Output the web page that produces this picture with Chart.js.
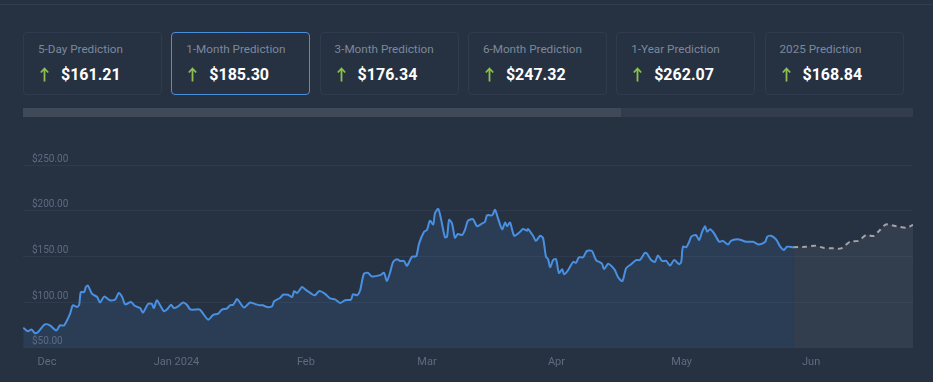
<!DOCTYPE html>
<html>
<head>
<meta charset="utf-8">
<script src="https://cdn.jsdelivr.net/npm/chart.js@4/dist/chart.umd.min.js"></script>
<style>
  html, body { margin: 0; padding: 0; }
  body { width: 933px; height: 382px; overflow: hidden; background: #263142; font-family: Roboto, "Noto Sans", sans-serif; position: relative; }
  .topline { position: absolute; left: 0; top: 4px; width: 933px; height: 1px; background: #323e50; }
  .card { position: absolute; top: 32px; width: 137px; height: 61px; border: 1px solid #303c4e; border-radius: 4px; box-sizing: content-box; }
  .card.sel { border-color: #4a8fdc; }
  .card .t { position: absolute; left: 14px; top: 9px; font-size: 11.7px; color: #7c899b; white-space: nowrap; }
  .card .v { position: absolute; left: 37px; top: 32px; font-size: 16px; font-weight: 700; color: #ffffff; white-space: nowrap; }
  .card svg { position: absolute; left: 16px; top: 34px; }
  .track { position: absolute; left: 23px; top: 108px; width: 890px; height: 9px; background: #323c4c; }
  .thumb { position: absolute; left: 23px; top: 108px; width: 598px; height: 9px; background: #404958; }
  #c { position: absolute; left: 0; top: 130px; }
</style>
</head>
<body>
<div class="topline"></div>
<div id="cards"></div>
<div class="track"></div>
<div class="thumb"></div>
<canvas id="c" width="933" height="252"></canvas>
<script>
// ---- data ----
const predictionLabels = ["5-Day Prediction", "1-Month Prediction", "3-Month Prediction", "6-Month Prediction", "1-Year Prediction", "2025 Prediction"];
const predictionValues = ["161.21", "185.30", "176.34", "247.32", "262.07", "168.84"];
const selectedPrediction = 1;

// days since 2023-12-01
const monthTicks = [0, 31, 62, 91, 122, 152, 183];
const monthLabels = ["Dec", "Jan 2024", "Feb", "Mar", "Apr", "May", "Jun"];
const yTicks = [50, 100, 150, 200, 250];

const histDays = [-5.7,-4.6,-3.7,-2.9,-2.2,-0.5,0.7,2.2,3.1,4.1,5.5,6.2,7.2,7.7,8.1,8.9,9.3,9.8,10.8,12.0,12.7,13.7,15.1,16.3,17.2,18.0,18.7,20.1,21.1,22.3,23.0,24.2,25.1,25.6,26.3,27.1,28.0,28.7,29.7,30.4,31.4,32.6,33.5,34.3,35.4,36.6,38.6,39.8,41.0,41.9,43.1,43.8,44.6,45.5,46.2,47.2,48.6,49.8,51.0,51.7,52.7,53.9,54.4,55.8,56.5,57.7,58.7,59.2,59.9,61.1,61.8,63.5,64.2,64.9,65.4,66.6,67.8,69.0,70.2,71.4,72.8,73.3,74.3,75.0,75.9,76.9,77.8,79.8,80.7,81.4,82.2,82.9,83.8,84.6,85.5,86.2,87.4,88.4,89.1,90.3,91.0,91.7,92.5,92.9,93.7,94.4,95.3,95.8,96.3,97.0,97.7,98.4,99.4,100.1,100.8,102.0,103.0,104.2,104.9,105.4,106.6,107.3,108.0,109.0,109.7,110.2,110.9,111.9,113.3,114.0,115.0,115.2,116.4,117.1,118.1,118.8,119.5,120.0,120.5,121.2,121.9,122.6,123.4,123.8,124.8,126.0,126.7,127.4,128.4,129.3,130.5,131.5,132.9,133.4,134.4,135.3,136.0,136.8,137.8,138.7,139.9,141.1,142.0,143.2,143.7,144.7,145.6,146.3,147.3,148.3,149.2,150.2,151.4,151.9,152.3,153.1,153.8,154.3,155.4,156.2,156.9,157.6,158.1,158.8,159.8,161.0,161.9,163.1,163.8,165.3,166.2,167.4,169.1,170.5,172.0,172.5,173.4,174.6,175.6,176.5,177.2,178.7];
const histValues = [72,68,70,66,67,75.6,74.5,69,74.5,74.5,87,96.5,94.6,97,111,111,116.6,118,109,105.6,99.5,106,102,102.7,110,105.6,97.6,100,95.7,93.5,88.5,98,98,93.5,102,96.5,90,91.8,97,93.5,95.4,99.5,97,92,91.8,91.8,80.8,86,87.4,91.8,93,96.5,97,103.4,99.5,94,99.5,98,96.5,96.5,94.6,95.4,101,104.5,108,108,105.6,112,110,116.6,114,108.6,107.5,111,112,109,104,103,99,102,102.7,108.6,107.5,113,131,132,128,129.5,132,123,133,144,147,145,145,139.7,149.6,150,164,177,179,189,185,197,202,190,171,171.6,190,186,170.4,174.5,173.4,179,188.8,190.7,183,186,188,195,195,201,191.8,179.7,187,183,187,172.6,177,180,178,180,172.6,167,172.6,170,149.6,147,138,146,147,132,136,130.5,135,144,143,149,149,156,156,146,142,136,142,139,135,127,123,137,141.5,146,146,154,153,146,144,151,145,145,140,146,141.5,144,160.6,160,166,171.6,173.4,168,177,183,177,179.7,175,166,167,163,167,168.7,168,166,166,163,166,171.6,172.6,168.7,160.6,157,160.6,160];

const forecastDays = [178.7,181.8,184.0,185.9,188.3,190.2,192.3,194.3,196.2,197.9,199.5,200.9,203.4,205.7,207.4];
const forecastValues = [160,160.6,161.7,159.5,158.8,158.8,166,167,173.4,172.3,179,185,183,181.4,184.4];

// ---- cards ----
const cardsEl = document.getElementById('cards');
predictionLabels.forEach((lab, i) => {
  const c = document.createElement('div');
  c.className = 'card' + (i === selectedPrediction ? ' sel' : '');
  c.style.left = (23 + i * 148.3) + 'px';
  c.innerHTML = '<div class="t">' + lab + '</div>' +
    '<svg width="9" height="15" viewBox="0 0 9 15"><path d="M4.5 14.5 V1.5 M0.8 5.5 L4.5 1.5 L8.2 5.5" stroke="#8cbf4e" stroke-width="1.8" fill="none"/></svg>' +
    '<div class="v">$' + predictionValues[i] + '</div>';
  cardsEl.appendChild(c);
});

// ---- chart ----
const toPts = (xs, ys) => xs.map((x, i) => ({ x: x, y: ys[i] }));

const yLabelPlugin = {
  id: 'yLabels',
  afterDraw(chart) {
    const ctx = chart.ctx;
    const ys = chart.scales.y;
    ctx.save();
    ctx.font = '10px Roboto';
    ctx.fillStyle = '#5e6c80';
    ctx.textAlign = 'left';
    ctx.textBaseline = 'middle';
    ys.ticks.forEach(t => {
      const py = ys.getPixelForValue(t.value);
      ctx.fillText('$' + t.value.toFixed(2), chart.chartArea.left + 9, py - 6);
    });
    ctx.restore();
  }
};

new Chart(document.getElementById('c'), {
  type: 'line',
  data: {
    datasets: [
      {
        data: toPts(histDays, histValues),
        borderColor: '#4a90e2',
        borderWidth: 2,
        backgroundColor: 'rgba(74,144,226,0.12)',
        fill: 'start',
        pointRadius: 0,
        tension: 0.25
      },
      {
        data: toPts(forecastDays, forecastValues),
        borderColor: '#a4a4a4',
        borderWidth: 2,
        borderDash: [5, 4],
        backgroundColor: 'rgba(160,170,185,0.1)',
        fill: 'start',
        pointRadius: 0,
        tension: 0.25
      }
    ]
  },
  options: {
    responsive: false,
    animation: false,
    devicePixelRatio: 1,
    layout: { padding: { left: 23, right: 20, top: 35, bottom: 5 } },
    plugins: { legend: { display: false }, tooltip: { enabled: false } },
    scales: {
      x: {
        type: 'linear',
        min: -5.75,
        max: 207.4,
        grid: { display: false, drawTicks: false },
        border: { display: false },
        afterBuildTicks: (axis) => { axis.ticks = monthTicks.map(v => ({ value: v })); },
        ticks: {
          color: '#5e6c80',
          font: { family: 'Roboto', size: 11 },
          padding: 8,
          maxRotation: 0,
          autoSkip: false,
          callback: (v, i) => monthLabels[i]
        }
      },
      y: {
        min: 50,
        max: 250,
        afterBuildTicks: (axis) => { axis.ticks = yTicks.map(v => ({ value: v })); },
        grid: { color: '#2f3b4c', lineWidth: 1, drawTicks: false },
        border: { display: false },
        ticks: { display: false }
      }
    }
  },
  plugins: [yLabelPlugin]
});
</script>
</body>
</html>
